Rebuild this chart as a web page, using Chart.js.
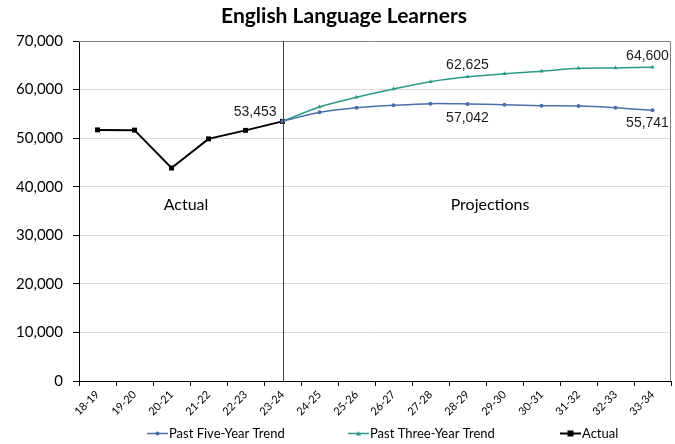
<!DOCTYPE html>
<html>
<head>
<meta charset="utf-8">
<script src="https://cdn.jsdelivr.net/npm/chart.js@4/dist/chart.umd.min.js"></script>
<style>
html,body{margin:0;padding:0;background:#fff;}
#wrap{width:675px;height:444px;position:relative;}
</style>
</head>
<body>
<div id="wrap"><canvas id="c" width="675" height="444"></canvas></div>
<script>
const years = ["18-19","19-20","20-21","21-22","22-23","23-24","24-25","25-26","26-27","27-28","28-29","29-30","30-31","31-32","32-33","33-34"];
const actual = [51700, 51650, 43850, 49850, 51600, 53453, null, null, null, null, null, null, null, null, null, null];
const fiveYear = [null, null, null, null, null, 53453, 55320, 56270, 56760, 57100, 57042, 56890, 56680, 56620, 56270, 55741];
const threeYear = [null, null, null, null, null, 53453, 56410, 58410, 60120, 61630, 62625, 63280, 63760, 64380, 64450, 64600];
const yTicks = [0, 10000, 20000, 30000, 40000, 50000, 60000, 70000];
const dividerCategory = "23-24";
const regionLabels = [["Actual", "20-21", "21-22", -4], ["Projections", "28-29", "29-30", 4]];
const regionValue = 36200;
// [series, category, text, dx, dy, align]
const valueLabels = [
  ["actual", "23-24", "53,453", -6, -9, "right"],
  ["three", "28-29", "62,625", 0, -12, "center"],
  ["five", "28-29", "57,042", 0, 14, "center"],
  ["three", "33-34", "64,600", -5, -11, "center"],
  ["five", "33-34", "55,741", -5, 13, "center"]
];
const colors = {five: "#4A6EAA", three: "#2A9A86", actual: "#000000"};
const seriesData = {five: fiveYear, three: threeYear, actual: actual};
const legendItems = [["Past Five-Year Trend", "five", 147], ["Past Three-Year Trend", "three", 348], ["Actual", "actual", 560]];

const sans = "Lato, 'Open Sans', sans-serif";

const overlay = {
  id: "overlay",
  afterDraw(chart) {
    const ctx = chart.ctx, a = chart.chartArea, x = chart.scales.x, y = chart.scales.y;
    ctx.save();
    ctx.strokeStyle = "#7f7f7f"; ctx.lineWidth = 1;
    ctx.beginPath();
    ctx.moveTo(a.left, a.top + 0.5); ctx.lineTo(a.right - 0.5, a.top + 0.5); ctx.lineTo(a.right - 0.5, a.bottom);
    ctx.stroke();
    const dx = Math.round(x.getPixelForValue(years.indexOf(dividerCategory))) + 0.5;
    ctx.strokeStyle = "#404040";
    ctx.beginPath(); ctx.moveTo(dx, a.top); ctx.lineTo(dx, a.bottom); ctx.stroke();
    ctx.fillStyle = "#000";
    ctx.font = "bold 21px " + sans;
    ctx.textAlign = "center"; ctx.textBaseline = "middle";
    ctx.fillText("English Language Learners", 344, 16);
    ctx.font = "16px " + sans;
    regionLabels.forEach(r => {
      const px = (x.getPixelForValue(years.indexOf(r[1])) + x.getPixelForValue(years.indexOf(r[2]))) / 2;
      ctx.fillText(r[0], px + r[3], y.getPixelForValue(regionValue));
    });
    ctx.font = "14px 'Liberation Sans', Arial, sans-serif";
    ctx.fillStyle = "#1a1a1a";
    valueLabels.forEach(v => {
      const i = years.indexOf(v[1]);
      const px = x.getPixelForValue(i), py = y.getPixelForValue(seriesData[v[0]][i]);
      ctx.textAlign = v[5];
      ctx.fillText(v[2], px + v[3], py + v[4]);
    });
    ctx.font = "13px " + sans;
    ctx.textAlign = "left";
    legendItems.forEach(l => {
      const ly = 433.5, lx = l[2];
      ctx.strokeStyle = colors[l[1]]; ctx.fillStyle = colors[l[1]];
      ctx.lineWidth = l[1] === "actual" ? 2 : 1.5;
      ctx.beginPath(); ctx.moveTo(lx, ly); ctx.lineTo(lx + 21, ly); ctx.stroke();
      if (l[1] === "actual") ctx.fillRect(lx + 7.5, ly - 3, 6, 6);
      else if (l[1] === "three") { ctx.beginPath(); ctx.moveTo(lx+10.5, ly-2.5); ctx.lineTo(lx+13, ly+2); ctx.lineTo(lx+8, ly+2); ctx.closePath(); ctx.fill(); }
      else { ctx.beginPath(); ctx.arc(lx + 10.5, ly, 2, 0, Math.PI * 2); ctx.fill(); }
      ctx.fillStyle = "#000";
      ctx.fillText(l[0], lx + 22, ly);
    });
    ctx.restore();
  }
};

new Chart(document.getElementById("c"), {
  type: "line",
  data: {
    labels: years,
    datasets: [
      {label: "Past Five-Year Trend", data: fiveYear, borderColor: colors.five, backgroundColor: colors.five,
       borderWidth: 1.5, pointStyle: "circle", pointRadius: 2, pointBorderWidth: 0, tension: 0.3},
      {label: "Past Three-Year Trend", data: threeYear, borderColor: colors.three, backgroundColor: colors.three,
       borderWidth: 1.5, pointStyle: "triangle", pointRadius: 2.5, pointBorderWidth: 0, tension: 0.3},
      {label: "Actual", data: actual, borderColor: colors.actual, backgroundColor: colors.actual,
       borderWidth: 2, pointStyle: "rect", pointRadius: 3.5, pointBorderWidth: 0, tension: 0}
    ]
  },
  options: {
    responsive: false,
    animation: false,
    layout: {padding: {left: 0, right: 3, top: 41, bottom: 0}},
    plugins: {legend: {display: false}, tooltip: {enabled: false}, title: {display: false}},
    scales: {
      x: {
        offset: true,
        grid: {offset: true, drawOnChartArea: false, drawTicks: true, tickLength: 5, tickColor: "#000"},
        border: {color: "#000", width: 1},
        ticks: {color: "#000", font: {family: sans, size: 11}, minRotation: 45, maxRotation: 45, autoSkip: false, padding: 2},
        afterFit(s) { s.height = 63; }
      },
      y: {
        min: 0, max: 70000,
        afterBuildTicks(s) { s.ticks = yTicks.map(v => ({value: v})); },
        grid: {color: "#d9d9d9", tickColor: "#000", tickLength: 6, lineWidth: 1},
        border: {color: "#000", width: 1},
        ticks: {color: "#000", font: {family: sans, size: 15}, padding: 10,
          callback: v => v.toLocaleString("en-US")},
        afterFit(s) { s.width = 79; }
      }
    }
  },
  plugins: [overlay]
});
</script>
</body>
</html>
